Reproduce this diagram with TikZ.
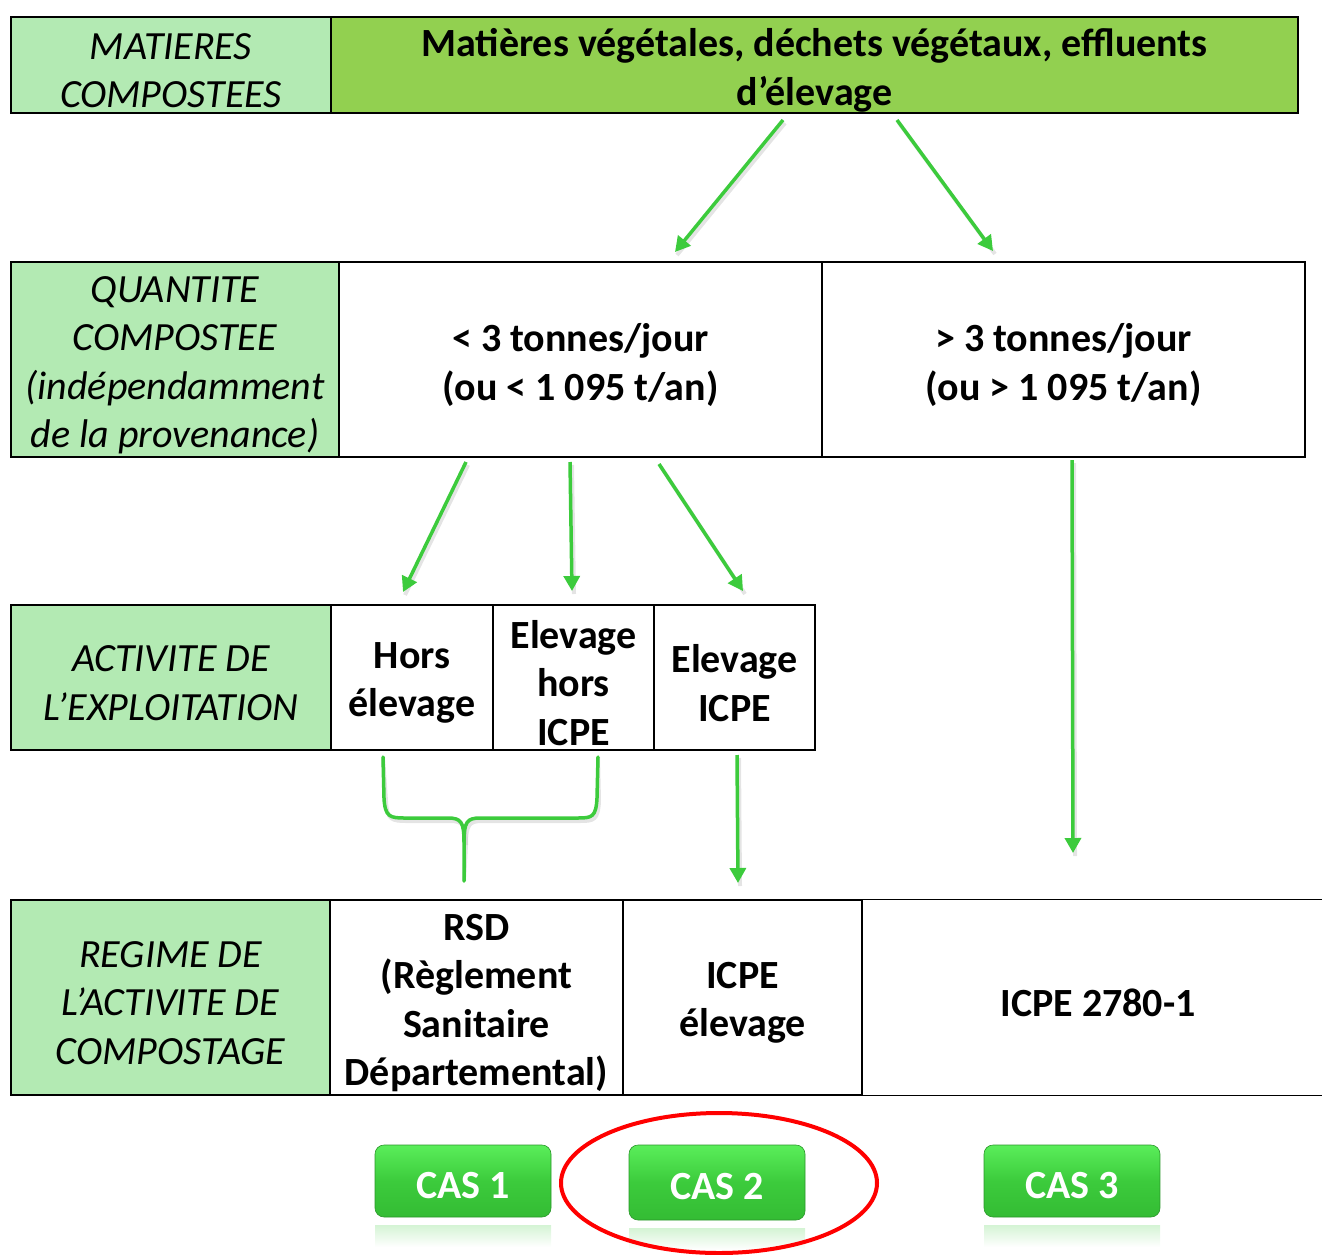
\documentclass[tikz,border=0pt]{standalone}
\usepackage{fontspec}
\setmainfont{Carlito}
\usetikzlibrary{arrows.meta,calc,shapes.geometric}
\definecolor{lightg}{HTML}{B3EAB3}
\definecolor{topg}{HTML}{92D050}
\definecolor{arrg}{HTML}{3CCB3C}
\definecolor{btn}{HTML}{3CCB3C}
\definecolor{btnlight}{HTML}{5AEE5A}
\definecolor{btndark}{HTML}{34BC34}
\tikzset{
  cell/.style={draw=black, line width=1.3pt, inner sep=0pt},
  lab/.style={cell, fill=lightg},
  labtxt/.style={inner sep=0pt, align=center, font=\fontsize{40}{48.5}\selectfont\itshape},
  valtxt/.style={inner sep=0pt, align=center, font=\fontsize{40}{48.5}\selectfont\bfseries},
  arr/.style={draw=arrg, line width=3.5pt, -{Triangle[length=15pt,width=16pt]}},
  shad/.style={draw=black!30, line width=4pt, opacity=0.35},
  casbtn/.style={rounded corners=9pt, minimum width=176pt, minimum height=72pt,
    top color=btnlight, bottom color=btndark, middle color=btn,
    draw=btndark!80!black, line width=0.6pt,
    text=white, font=\fontsize{40}{44}\selectfont\bfseries},
  refl/.style={minimum width=176pt, minimum height=22pt, inner sep=0pt,
    top color=btn!22, bottom color=white, draw=none},
}
\newcommand{\dn}{-5.5pt}
\newcommand{\btntext}[1]{\raisebox{-17pt}[0pt][0pt]{#1}}
\begin{document}
\begin{tikzpicture}[x=1pt,y=-1pt]
\useasboundingbox (0,0) rectangle (1322,1255);
% Row 1
\node[lab, minimum width=320pt, minimum height=96pt] (l1) at (171,65) {};
\node[labtxt] (l1t) at ([yshift=\dn]l1.center) {MATIERES\\COMPOSTEES};
\node[cell, fill=topg, minimum width=967pt, minimum height=96pt] (v1) at (814.5,65) {};
\node[valtxt] (v1t) at ([yshift=\dn]v1.center) {Matières végétales, déchets végétaux, effluents\\d’élevage};
% Row 2
\node[lab, minimum width=328pt, minimum height=195pt] (l2) at (175,359.5) {};
\node[labtxt] (l2t) at ([yshift=\dn]l2.center) {QUANTITE\\COMPOSTEE\\(indépendamment\\de la provenance)};
\node[cell, minimum width=483pt, minimum height=195pt] (lt) at (580.5,359.5) {};
\node[valtxt] (ltt) at ([yshift=\dn]lt.center) {< 3 tonnes/jour\\(ou < 1 095 t/an)};
\node[cell, minimum width=483pt, minimum height=195pt] (gt) at (1063.5,359.5) {};
\node[valtxt] (gtt) at ([yshift=\dn]gt.center) {> 3 tonnes/jour\\(ou > 1 095 t/an)};
% Row 3
\node[lab, minimum width=320pt, minimum height=145pt] (l3) at (171,677.5) {};
\node[labtxt] (l3t) at ([yshift=\dn]l3.center) {ACTIVITE DE\\L’EXPLOITATION};
\node[cell, minimum width=162pt, minimum height=145pt] (hors) at (412,677.5) {};
\node[valtxt] (horst) at ([yshift=\dn]hors.center) {Hors\\élevage};
\node[cell, minimum width=161pt, minimum height=145pt] (ehi) at (573.5,677.5) {};
\node[valtxt] (ehit) at ([yshift=\dn]ehi.center) {Elevage\\hors\\ICPE};
\node[cell, minimum width=161pt, minimum height=145pt] (ei) at (734.5,677.5) {};
\node[valtxt] (eit) at ([yshift=\dn]ei.center) {Elevage\\ICPE};
% Row 4
\node[lab, minimum width=319pt, minimum height=195pt] (l4) at (170.5,997.5) {};
\node[labtxt] (l4t) at ([yshift=\dn]l4.center) {REGIME DE\\L’ACTIVITE DE\\COMPOSTAGE};
\node[cell, minimum width=293pt, minimum height=195pt] (rsd) at (476.5,997.5) {};
\node[valtxt] (rsdt) at ([yshift=\dn]rsd.center) {RSD\\(Règlement\\Sanitaire\\Départemental)};
\node[cell, minimum width=239pt, minimum height=195pt] (icpe) at (742.5,997.5) {};
\node[valtxt] (icpet) at ([yshift=\dn]icpe.center) {ICPE\\élevage};
\node[inner sep=0pt, minimum width=472pt, minimum height=195pt] (i2780) at (1098,997.5) {};
\node[valtxt] (i2780t) at ([yshift=\dn]i2780.center) {ICPE 2780-1};
\draw[line width=1.3pt] (i2780.north west) -- (i2780.north east);
\draw[line width=1.3pt] (i2780.south west) -- (i2780.south east);
\draw[line width=1.3pt] (i2780.north west) -- (i2780.south west);
% arrow end points
\coordinate (a1s) at (783,120); \coordinate (a1e) at (675,252);
\coordinate (a2s) at (897,120); \coordinate (a2e) at (993,251);
\coordinate (a3s) at (466,462); \coordinate (a3e) at (403,592);
\coordinate (a4s) at (570,462); \coordinate (a4e) at (572,591);
\coordinate (a5s) at (659,464); \coordinate (a5e) at (743,591);
\coordinate (a6s) at (1072,460); \coordinate (a6e) at (1073,853);
\coordinate (a7s) at (737,755); \coordinate (a7e) at (738,883);
\coordinate (bl) at (383,757); \coordinate (br) at (598,757); \coordinate (bm) at (464,881);
% shadows
\foreach \s/\e in {a1s/a1e,a2s/a2e,a3s/a3e,a4s/a4e,a5s/a5e,a6s/a6e,a7s/a7e}
  \draw[shad] ([shift={(2,3)}]\s) -- ([shift={(2,3)}]\e);
% arrows
\draw[arr] (a1s) -- (a1e);
\draw[arr] (a2s) -- (a2e);
\draw[arr] (a3s) -- (a3e);
\draw[arr] (a4s) -- (a4e);
\draw[arr] (a5s) -- (a5e);
\draw[arr] (a6s) -- (a6e);
\draw[arr] (a7s) -- (a7e);
% brace
\draw[shad, shift={(2,3)}] (bl) -- (384,798) .. controls (385,817) and (390,818) .. (405,818)
  -- (448,818) .. controls (461,818) and (464,822) .. (464,842) -- (bm);
\draw[shad, shift={(2,3)}] (br) -- (597,798) .. controls (596,817) and (592,818) .. (578,818)
  -- (480,818) .. controls (467,818) and (464,822) .. (464,842);
\draw[draw=arrg, line width=3.5pt, line cap=round]
  (bl) -- (384,798) .. controls (385,817) and (390,818) .. (405,818)
  -- (448,818) .. controls (461,818) and (464,822) .. (464,842) -- (bm);
\draw[draw=arrg, line width=3.5pt, line cap=round]
  (br) -- (597,798) .. controls (596,817) and (592,818) .. (578,818)
  -- (480,818) .. controls (467,818) and (464,822) .. (464,842);
% CAS buttons
\node[refl] (r1) at (463,1236) {};
\node[refl] (r2) at (717,1239) {};
\node[refl] (r3) at (1072,1236) {};
\node[casbtn] (c1) at (463,1181) {\btntext{CAS 1}};
\node[casbtn, minimum height=75pt] (c2) at (717,1182.5) {\btntext{CAS 2}};
\node[casbtn] (c3) at (1072,1181) {\btntext{CAS 3}};
% red ellipse
\node[ellipse, draw=red, line width=4pt, minimum width=316pt, minimum height=140pt, inner sep=0pt] (ring) at (719,1183) {};
\end{tikzpicture}
\end{document}
